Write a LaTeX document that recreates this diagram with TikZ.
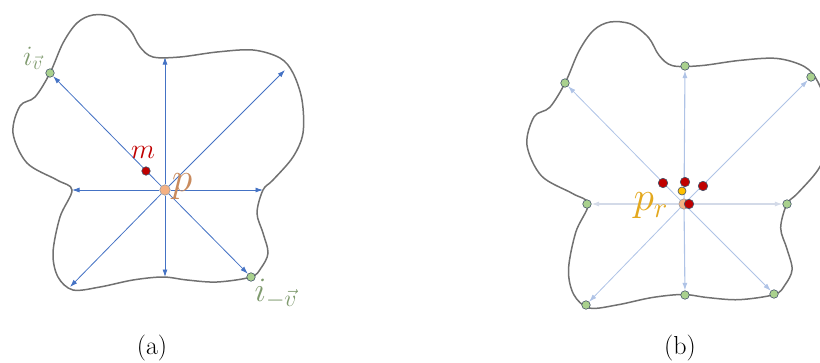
\documentclass[tikz,border=0pt]{standalone}
\usepackage{tikz}
\usepackage{xcolor}
\usepackage{amsmath}
\usetikzlibrary{arrows.meta}
\usetikzlibrary{positioning,backgrounds}
\definecolor{colorGris}{HTML}{717171}
\definecolor{colorBleu}{HTML}{4472C4}
\definecolor{colorBleuClair}{HTML}{AFC3E6}
\definecolor{colorBleuPale}{HTML}{D3DAE8}
\definecolor{colorVert}{HTML}{A9D18E}
\definecolor{colorBord}{HTML}{44546A}
\definecolor{colorRouge}{HTML}{C00000}
\definecolor{colorOrange}{HTML}{F4B183}
\definecolor{colorOr}{HTML}{FFC000}
\definecolor{colorTexteP}{HTML}{C98B5E}
\definecolor{colorTexteI}{HTML}{7F9A6E}
\definecolor{colorTexteOr}{HTML}{E3A81E}
\tikzset{
  contour/.style={draw=colorGris, line width=1.5pt},
  rayon/.style={draw=colorBleu, line width=0.8pt, -{Latex[length=7.5pt,width=5pt]}},
  rayonclair/.style={rayon, draw=colorBleuClair},
  rayonpale/.style={rayon, draw=colorBleuPale},
  point/.style={circle, draw=colorBord, line width=0.6pt, inner sep=0pt},
  pointvert/.style={point, fill=colorVert, minimum size=8.5pt},
  pointrouge/.style={point, fill=colorRouge, minimum size=9.5pt},
  pointorange/.style={point, draw=colorBord!60, fill=colorOrange, minimum size=10.5pt},
  pointor/.style={point, fill=colorOr, minimum size=8pt},
  etiquette/.style={inner sep=0pt, font=\fontsize{20}{20}\selectfont, scale=#1/20}
}

\begin{document}
\begin{tikzpicture}[x=1pt, y=-1pt]
\useasboundingbox (0,0) rectangle (820,362);

% Les deux patates
\foreach \cx/\cy/\s in {165/190/1, 685/204/1.04}{
  \begin{scope}[shift={(\cx,\cy)}, scale=\s]
    \draw[contour] plot[smooth cycle, tension=0.55] coordinates {
      (-152,-57) (-138,-27) (-108,-10) (-93,0) (-105,27) (-112,63)
      (-107,87) (-92,100) (-65,97) (-32,90) (-2,87) (22,90) (52,92)
      (86,87) (96,78) (103,63) (98,43) (92,23) (98,0) (108,-10)
      (128,-33) (138,-57) (137,-90) (128,-117) (115,-132) (88,-140)
      (52,-138) (15,-133) (-12,-133) (-25,-143) (-35,-160) (-52,-173)
      (-72,-175) (-88,-167) (-102,-147) (-115,-117) (-130,-93) (-145,-84)
    };
  \end{scope}
}

% (a)
\node[pointorange] (pa) at (165,190) {};
\node[pointvert] (iva) at (50,73) {};
\node[pointvert] (imva) at (251,277) {};
\node[pointrouge, minimum size=8.5pt] (ma) at (146,171) {};
\coordinate (ha) at (165,57);
\coordinate (hda) at (285,70);
\coordinate (da) at (263,190);
\coordinate (ba) at (165,277);
\coordinate (bga) at (70,287);
\coordinate (ga) at (72,190);
\begin{pgfonlayer}{background}
  \foreach \fin in {ha,hda,da,imva,ba,bga,ga,iva}
    \draw[rayon] (pa) -- (\fin);
\end{pgfonlayer}
\node[etiquette=40, text=colorTexteP] (lpa) at (182,187) {$p$};
\node[etiquette=27, text=colorRouge] (lma) at (143,152) {$m$};
\node[etiquette=27, text=colorTexteI] (liva) at (33,58) {$i_{\vec{v}}$};
\node[etiquette=33, text=colorTexteI] (limva) at (276,294) {$i_{-\vec{v}}$};

% (b)
\node[pointorange] (pb) at (684,204) {};
\node[pointvert] (hb) at (685,66) {};
\node[pointvert] (hdb) at (811,77) {};
\node[pointvert] (db) at (787,204) {};
\node[pointvert] (bdb) at (774,294) {};
\node[pointvert] (bb) at (685,295) {};
\node[pointvert] (bgb) at (586,305) {};
\node[pointvert] (gb) at (587,204) {};
\node[pointvert] (hgb) at (565,83) {};
\begin{pgfonlayer}{background}
  \foreach \fin in {hb,bb}
    \draw[rayonclair, line width=1.1pt] (pb) -- (\fin);
  \foreach \fin in {hdb,bdb,bgb,hgb}
    \draw[rayonclair] (pb) -- (\fin);
  \foreach \fin in {db,gb}
    \draw[rayonpale, line width=1.1pt] (pb) -- (\fin);
\end{pgfonlayer}
\node[pointrouge] (r1) at (663,183) {};
\node[pointrouge] (r2) at (685,182) {};
\node[pointrouge] (r3) at (703,186) {};
\node[pointor] (ob) at (682,191) {};
\node[pointrouge] (r4) at (689,204) {};
\node[etiquette=40, text=colorTexteOr] (lpb) at (651,206) {$p_r$};

% legendes
\node[etiquette=26] (capa) at (152,348) {(a)};
\node[etiquette=26] (capb) at (680,348) {(b)};
\end{tikzpicture}
\end{document}
